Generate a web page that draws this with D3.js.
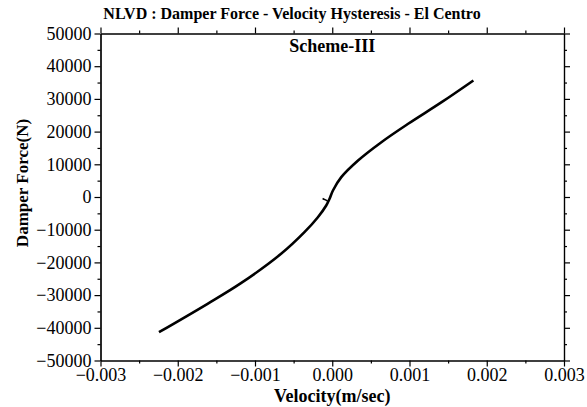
<!DOCTYPE html>
<html>
<head>
    <meta charset="utf-8">
    <title>NLVD Damper Force - Velocity Hysteresis</title>
    <script src="https://cdnjs.cloudflare.com/ajax/libs/d3/7.8.5/d3.min.js"></script>
    <style>
        body { margin: 0; background: #fff; }
        text { font-family: "Liberation Serif", "Times New Roman", serif; fill: #000; }
        .axis path, .axis line { stroke: #000; stroke-width: 1.2; }
    </style>
</head>
<body>
    <div id="chart"></div>
    <script>
        // data
        const velocity = [-0.002243, -0.001614, -0.001182, -0.000662, -0.000360, -0.000186, -0.000078,
                          -0.000035, 0.000009, 0.000117, 0.000334, 0.000636, 0.000983, 0.001416, 0.001827];
        const force = [-41350, -32660, -26360, -17370, -10760, -6180, -2600,
                       -550, 1990, 6060, 11160, 16760, 22390, 28990, 35630];
        // little start-up hook near the origin
        const hookVelocity = [-0.000125, -0.000095, -0.00006];
        const hookForce = [-450, -800, -1250];

        const xTicks = [-0.003, -0.002, -0.001, 0.000, 0.001, 0.002, 0.003];
        const yTicks = [-50000, -40000, -30000, -20000, -10000, 0, 10000, 20000, 30000, 40000, 50000];

        const W = 587, H = 407;
        const margin = {top: 33.5, right: 23, bottom: 46.5, left: 100.5};
        const width = W - margin.left - margin.right;
        const height = H - margin.top - margin.bottom;

        const svg = d3.select("#chart").append("svg")
            .attr("width", W)
            .attr("height", H);

        const g = svg.append("g")
            .attr("transform", `translate(${margin.left},${margin.top})`);

        const x = d3.scaleLinear().domain([-0.003, 0.003]).range([0, width]);
        const y = d3.scaleLinear().domain([-50000, 50000]).range([height, 0]);

        const xMinor = d3.range(-0.0025, 0.003, 0.001);
        const yMinor = d3.range(-45000, 50000, 10000);

        // minor ticks first
        g.append("g").attr("class", "axis").attr("transform", `translate(0,${height})`)
            .call(d3.axisBottom(x).tickValues(xMinor).tickSize(3).tickFormat("").tickSizeOuter(0));
        g.append("g").attr("class", "axis")
            .call(d3.axisTop(x).tickValues(xMinor).tickSize(3).tickFormat("").tickSizeOuter(0));
        g.append("g").attr("class", "axis")
            .call(d3.axisLeft(y).tickValues(yMinor).tickSize(3).tickFormat("").tickSizeOuter(0));
        g.append("g").attr("class", "axis").attr("transform", `translate(${width},0)`)
            .call(d3.axisRight(y).tickValues(yMinor).tickSize(3).tickFormat("").tickSizeOuter(0));

        // major ticks
        g.append("g").attr("class", "axis").attr("transform", `translate(0,${height})`)
            .call(d3.axisBottom(x).tickValues(xTicks).tickSize(6).tickPadding(2)
                .tickFormat(d3.format(".3f")).tickSizeOuter(0))
            .attr("font-family", "Liberation Serif").attr("font-size", 18);
        g.append("g").attr("class", "axis")
            .call(d3.axisTop(x).tickValues(xTicks).tickSize(6).tickFormat("").tickSizeOuter(0));
        g.append("g").attr("class", "axis")
            .call(d3.axisLeft(y).tickValues(yTicks).tickSize(6).tickPadding(3)
                .tickFormat(d3.format("d")).tickSizeOuter(0))
            .attr("font-family", "Liberation Serif").attr("font-size", 18);
        g.append("g").attr("class", "axis").attr("transform", `translate(${width},0)`)
            .call(d3.axisRight(y).tickValues(yTicks).tickSize(6).tickFormat("").tickSizeOuter(0));

        const line = d3.line()
            .x(d => x(d[0]))
            .y(d => y(d[1]))
            .curve(d3.curveCatmullRom);

        g.append("path")
            .datum(velocity.map((v, i) => [v, force[i]]))
            .attr("fill", "none")
            .attr("stroke", "#000")
            .attr("stroke-width", 2.6)
            .attr("d", line);

        g.append("path")
            .datum(hookVelocity.map((v, i) => [v, hookForce[i]]))
            .attr("fill", "none")
            .attr("stroke", "#000")
            .attr("stroke-width", 1.6)
            .attr("d", line);

        // titles
        svg.append("text")
            .attr("x", 292).attr("y", 19)
            .attr("text-anchor", "middle")
            .style("font-size", "16px").style("font-weight", "bold")
            .text("NLVD : Damper Force - Velocity Hysteresis - El Centro");

        g.append("text")
            .attr("x", x(0)).attr("y", 18)
            .attr("text-anchor", "middle")
            .style("font-size", "18px").style("font-weight", "bold")
            .text("Scheme-III");

        svg.append("text")
            .attr("x", margin.left + x(0)).attr("y", 402)
            .attr("text-anchor", "middle")
            .style("font-size", "18px").style("font-weight", "bold")
            .text("Velocity(m/sec)");

        svg.append("text")
            .attr("transform", `translate(28,${margin.top + y(0) - 14}) rotate(-90)`)
            .attr("text-anchor", "middle")
            .style("font-size", "17px").style("font-weight", "bold")
            .text("Damper Force(N)");
    </script>
</body>
</html>
